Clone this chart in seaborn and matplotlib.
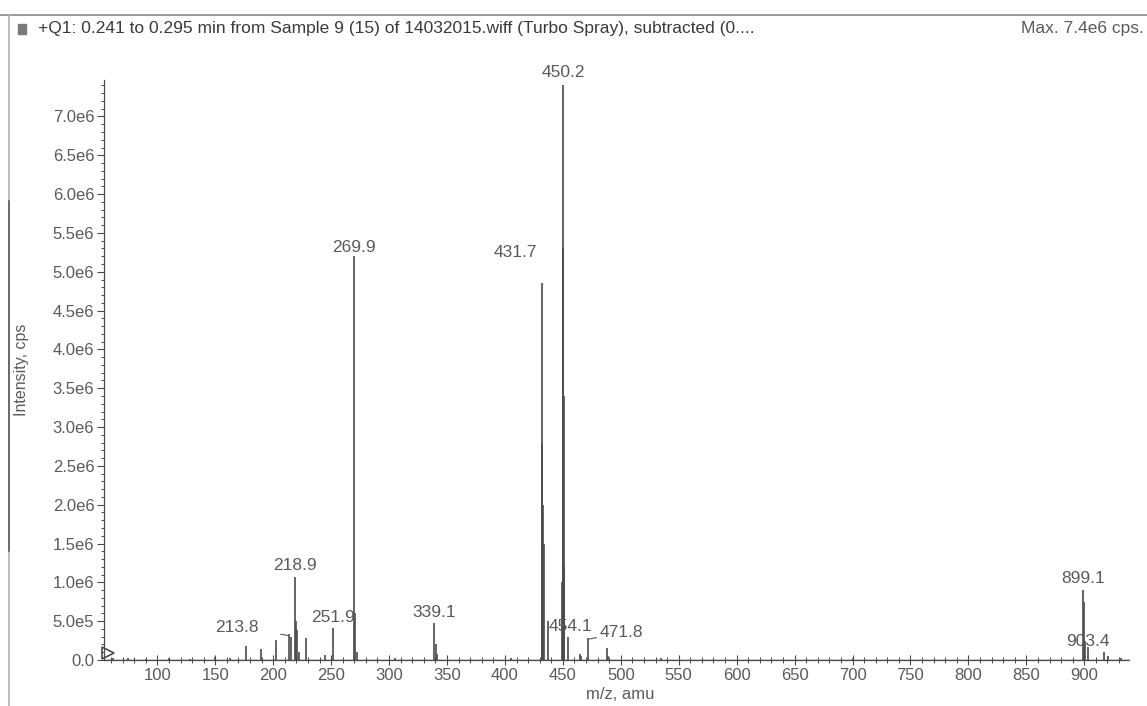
import matplotlib
matplotlib.use("Agg")
import matplotlib.pyplot as plt
from matplotlib.lines import Line2D
from matplotlib.patches import Rectangle
from matplotlib.ticker import FixedLocator, MultipleLocator, FuncFormatter
import pandas as pd
import seaborn as sns

# peak list (m/z, intensity in cps)
mz = [62, 75, 90, 110, 128, 150, 163, 176.5, 189.5, 202.5, 213.8, 215.5,
      218.9, 219.8, 220.8, 222.5, 228.5, 244.5, 251.9, 269.9, 270.9, 272.0,
      305, 339.1, 340.2, 341.1, 405, 431.7, 432.3, 432.9, 433.8, 437.0,
      449.2, 449.8, 450.2, 450.7, 451.3, 454.1, 464.5, 466.0, 471.8, 487.8,
      489.0, 535, 700, 899.1, 899.5, 900.5, 903.4, 917.0, 920.5, 932.0]
intensity = [0.02e6, 0.02e6, 0.015e6, 0.02e6, 0.015e6, 0.04e6, 0.02e6,
             0.18e6, 0.14e6, 0.26e6, 0.33e6, 0.30e6, 1.07e6, 0.50e6, 0.38e6,
             0.10e6, 0.28e6, 0.06e6, 0.41e6, 5.20e6, 0.60e6, 0.10e6, 0.03e6,
             0.48e6, 0.20e6, 0.08e6, 0.03e6, 4.85e6, 2.80e6, 2.00e6, 1.50e6,
             0.50e6, 1.00e6, 5.30e6, 7.40e6, 3.40e6, 1.20e6, 0.30e6, 0.08e6,
             0.05e6, 0.28e6, 0.15e6, 0.05e6, 0.03e6, 0.02e6, 0.90e6, 0.75e6,
             0.25e6, 0.17e6, 0.10e6, 0.05e6, 0.02e6]

labelled_mz = [213.8, 218.9, 251.9, 269.9, 339.1, 431.7, 450.2, 454.1,
               471.8, 899.1, 903.4]

title_text = ("+Q1: 0.241 to 0.295 min from Sample 9 (15) of 14032015.wiff "
              "(Turbo Spray), subtracted (0....")
max_text = "Max. 7.4e6 cps."

spectrum = pd.DataFrame({"mz": mz, "intensity": intensity})

sns.set_theme(style="white")
plt.rcParams["font.family"] = ["Liberation Sans", "DejaVu Sans"]

grey = "#4a4a4a"
text_grey = "#5a5a5a"

fig = plt.figure(figsize=(11.47, 7.06), dpi=100)
ax = fig.add_axes([0.0907, 0.0652, 0.894, 0.8215])

# baseline trace through the peaks
base = spectrum.sort_values("mz")
sns.lineplot(x=[54, 939], y=[0, 0], ax=ax, color=grey, linewidth=1.0)
ax.vlines(base["mz"], 0, base["intensity"], color=grey, linewidth=1.2)

ax.set_xlim(54, 939)
ax.set_ylim(0, 7.47e6)

# label offsets in points (dx, dy) from the peak top
offsets = {213.8: (-38, 6), 218.9: (0, 8), 251.9: (0, 8), 269.9: (0, 6),
           339.1: (0, 7), 431.7: (-19, 22), 450.2: (0, 9), 454.1: (2, 7),
           471.8: (24, 5), 899.1: (0, 8), 903.4: (0, 4)}
leaders = {213.8, 471.8}
for m in labelled_mz:
    h = spectrum.loc[spectrum["mz"] == m, "intensity"].iloc[0]
    dx, dy = offsets[m]
    if m in leaders:
        ax.annotate(f"{m:.1f}", xy=(m, h * 0.95), xytext=(dx, dy),
                    textcoords="offset points", ha="center", va="center",
                    fontsize=12.5, color=text_grey,
                    arrowprops=dict(arrowstyle="-", color=text_grey,
                                    lw=0.8, shrinkA=14, shrinkB=1))
    else:
        ax.annotate(f"{m:.1f}", xy=(m, h), xytext=(dx, dy),
                    textcoords="offset points", ha="center", va="center",
                    fontsize=12.5, color=text_grey)

ax.xaxis.set_major_locator(FixedLocator(list(range(100, 901, 50))))
ax.xaxis.set_minor_locator(MultipleLocator(10))
ax.yaxis.set_major_locator(MultipleLocator(5e5))
ax.yaxis.set_minor_locator(MultipleLocator(1e5))


def sci_label(v, pos):
    if v == 0:
        return "0.0"
    mant, exp = f"{v:.1e}".split("e")
    return f"{mant}e{int(exp)}"


ax.yaxis.set_major_formatter(FuncFormatter(sci_label))
ax.tick_params(axis="x", which="major", direction="inout", length=7,
               width=0.8, color=grey, labelsize=12, labelcolor=text_grey,
               pad=2)
ax.tick_params(axis="x", which="minor", direction="inout", length=4,
               width=0.7, color=grey)
ax.tick_params(axis="y", which="major", direction="out", length=5,
               width=0.8, color=grey, labelsize=12, labelcolor=text_grey,
               pad=2)
ax.tick_params(axis="y", which="minor", direction="out", length=2.5,
               width=0.7, color=grey)
ax.tick_params(bottom=True, left=True, which="both")

sns.despine(ax=ax)
for side in ["left", "bottom"]:
    ax.spines[side].set_color(grey)
    ax.spines[side].set_linewidth(0.9)

# small marker at the origin
ax.plot([0.004], [0.012], marker=">", markersize=8, mfc="none", mec=grey,
        mew=1.2, transform=ax.transAxes, clip_on=False)

ax.set_xlabel("")
ax.set_ylabel("")
fig.text(0.5405, 0.0156, "m/z, amu", ha="center", va="center",
         fontsize=12, color=text_grey)
fig.text(0.019, 0.476, "Intensity, cps", ha="center", va="center",
         rotation=90, fontsize=11.5, color=text_grey)

# header strip
fig.add_artist(Line2D([0.0, 1.0], [0.979, 0.979], color="#8a8a8a", lw=1.2))
fig.add_artist(Line2D([0.008, 0.008], [0.0, 0.979], color="#b0b0b0", lw=1.2))
fig.add_artist(Line2D([0.008, 0.008], [0.22, 0.715], color="#6a6a6a", lw=1.4))
fig.add_artist(Rectangle((0.0155, 0.952), 0.0075, 0.014, color="#7a7a7a"))
fig.text(0.033, 0.960, title_text, ha="left", va="center", fontsize=12.5,
         color="#3a3a3a")
fig.text(0.997, 0.960, max_text, ha="right", va="center", fontsize=12.5,
         color=text_grey)

fig.savefig("out.png", dpi=100)
